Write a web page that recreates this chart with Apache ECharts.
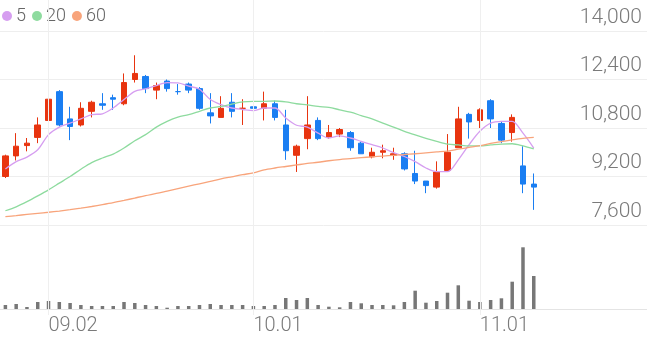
<!DOCTYPE html>
<html>
<head>
<meta charset="utf-8">
<script src="https://cdn.jsdelivr.net/npm/echarts@6/dist/echarts.min.js"></script>
<style>html,body{margin:0;padding:0;background:#fff}#c{width:647px;height:337px}</style>
</head>
<body>
<div id="c"></div>
<script>
const dates = ['08.27','08.28','08.29','08.30',
  '09.02','09.03','09.04','09.05','09.06','09.09','09.10','09.11','09.16','09.17','09.18','09.19','09.20','09.23','09.24','09.25','09.26','09.27','09.30',
  '10.01','10.02','10.04','10.07','10.08','10.10','10.11','10.14','10.15','10.16','10.17','10.18','10.21','10.22','10.23','10.24','10.25','10.28','10.29','10.30','10.31',
  '11.01','11.04','11.05','11.06','11.07','11.08'];
const emptySlots = 10;
const tickLabels = ['09.02','10.01','11.01'];

const open  = [9200,9880,10220,10490,11050,12000,11100,10900,11350,11600,11800,11600,12400,12500,12050,12350,12000,12250,12100,11300,11150,11650,11450,11500,11450,11600,10900,9900,10450,11050,10500,10600,10650,10300,9850,10000,9900,9950,9300,9050,8850,9400,10150,11250,11050,11700,10950,10650,9550,8950];
const close = [9880,10200,10300,10900,11750,10900,10850,11450,11650,11550,11750,12300,12600,12100,12200,12100,12000,12050,11450,11200,11450,11350,11450,11450,11600,11150,10050,10200,10900,10450,10650,10750,10150,9950,10000,10050,9950,9450,9050,8900,9350,10000,11100,11000,11400,11100,10400,11150,8950,8850];
const low   = [9150,9730,10030,10300,10900,10850,10400,10850,11150,11400,11400,11550,12300,11950,11750,12000,11900,11950,11400,10950,11150,11150,10900,11250,11050,11050,9750,9350,10100,10400,10450,10500,10050,9950,9800,9800,9750,9400,8950,8650,8800,9400,10150,10450,10800,10800,10300,10350,8650,8100];
const high  = [9920,10630,10470,11150,11900,12050,11500,11650,11700,11950,11900,12600,13200,12550,12300,12400,12250,12300,12150,11950,11850,11950,11750,11550,12000,11700,11400,10250,11850,11150,10900,10800,10700,10350,10150,10250,10150,10000,10050,9050,9700,10600,11500,11300,11450,11750,11000,11250,10200,9300];

const ma5  = [9450,9690,9840,10080,10580,10830,10960,11100,11240,11270,11460,11740,12010,12090,12200,12300,12290,12180,12080,11740,11570,11460,11410,11370,11460,11460,11130,10890,10830,10630,10470,10540,10470,10360,10250,10140,9990,9860,9690,9480,9360,9360,9750,10250,10690,10960,11020,11020,10630,10140];
const ma20 = [8070,8200,8370,8560,8760,8980,9200,9440,9660,9810,9940,10140,10380,10580,10830,11020,11160,11240,11350,11460,11510,11590,11660,11680,11680,11690,11660,11600,11560,11510,11480,11400,11320,11210,11100,10960,10830,10690,10570,10460,10360,10270,10240,10210,10210,10240,10270,10280,10210,10110];
const ma60 = [7875,7910,7950,7985,8020,8060,8105,8155,8210,8270,8335,8410,8490,8570,8640,8720,8800,8880,8960,9040,9120,9190,9260,9320,9420,9480,9530,9580,9630,9670,9720,9760,9790,9820,9850,9875,9900,9925,9950,9980,10010,10040,10100,10160,10220,10290,10350,10410,10460,10490];

const volume = [40000,50000,20000,70000,80000,70000,60000,40000,30000,30000,30000,70000,60000,40000,30000,13000,30000,30000,40000,50000,40000,40000,40000,30000,30000,40000,110000,90000,110000,40000,23000,17000,70000,57000,40000,40000,37000,70000,183000,63000,80000,163000,237000,83000,70000,90000,107000,273000,617000,330000];

const categories = dates.concat(new Array(emptySlots).fill(''));
const candleData = open.map((o, i) => [o, close[i], low[i], high[i]]);

const UP = '#e8340f', DOWN = '#1a7ef2';
const FONT = 'Roboto, "Noto Sans", sans-serif';

const chart = echarts.init(document.getElementById('c'), null, {renderer: 'canvas'});
chart.setOption({
  animation: false,
  backgroundColor: '#fff',
  legend: {
    data: ['5', '20', '60'],
    icon: 'circle',
    itemWidth: 10, itemHeight: 10, itemGap: 6,
    left: 2, top: 7, padding: 0,
    textStyle: {color: '#666', fontSize: 18, fontFamily: FONT, fontWeight: 300, padding: [0, 0, 0, -1]}
  },
  grid: [
    {left: 0, right: 0, top: 31, height: 194},
    {left: 0, right: 0, top: 226, height: 83},
    {left: 0, right: 0, top: 0, height: 315}
  ],
  xAxis: [
    {type: 'category', gridIndex: 0, data: categories, boundaryGap: true,
     axisLine: {show: false}, axisTick: {show: false}, axisLabel: {show: false}, splitLine: {show: false}},
    {type: 'category', gridIndex: 1, data: categories, boundaryGap: true,
     axisLine: {show: true, lineStyle: {color: '#e4e4e4'}}, axisTick: {show: false},
     axisLabel: {
       interval: (idx, val) => tickLabels.indexOf(val) >= 0,
       align: 'left', margin: 7, color: '#7a7a7a', fontSize: 20, fontWeight: 300, fontFamily: FONT
     },
     splitLine: {show: false}},
    {type: 'category', gridIndex: 2, data: categories, boundaryGap: true, show: false}
  ],
  yAxis: [
    {type: 'value', gridIndex: 0, position: 'right', min: 7600, max: 14000, interval: 1600, scale: true,
     axisLine: {show: false}, axisTick: {show: false},
     axisLabel: {inside: true, margin: 5, verticalAlign: 'bottom', padding: [0, 0, 3, 0],
                 color: '#7a7a7a', fontSize: 21, fontWeight: 300, fontFamily: FONT,
                 formatter: v => v.toLocaleString('en-US')},
     splitLine: {show: true, lineStyle: {color: '#eeeeee', width: 1}}},
    {type: 'value', gridIndex: 1, min: 0, max: 830000, show: false, splitLine: {show: false}},
    {type: 'value', gridIndex: 2, min: 0, max: 1, show: false, splitLine: {show: false}}
  ],
  series: [
    {
      name: 'grid', type: 'line', xAxisIndex: 2, yAxisIndex: 2, data: [null], z: 0,
      symbol: 'none', silent: true,
      markLine: {
        silent: true, symbol: ['none', 'none'], label: {show: false},
        lineStyle: {color: '#efefef', type: 'solid', width: 1},
        data: tickLabels.map(t => ({xAxis: t}))
      }
    },
    {
      name: 'price', type: 'candlestick', xAxisIndex: 0, yAxisIndex: 0,
      data: candleData, barWidth: 6,
      itemStyle: {color: UP, color0: DOWN, borderColor: UP, borderColor0: DOWN, borderWidth: 1}
    },
    {name: '5', type: 'line', xAxisIndex: 0, yAxisIndex: 0, data: ma5, smooth: 0.3, symbol: 'none',
     color: '#d69ef0', lineStyle: {width: 1.3, color: '#d69ef0'}},
    {name: '20', type: 'line', xAxisIndex: 0, yAxisIndex: 0, data: ma20, smooth: 0.3, symbol: 'none',
     color: '#8edb9f', lineStyle: {width: 1.3, color: '#8edb9f'}},
    {name: '60', type: 'line', xAxisIndex: 0, yAxisIndex: 0, data: ma60, smooth: 0.3, symbol: 'none',
     color: '#f8a47b', lineStyle: {width: 1.3, color: '#f8a47b'}},
    {name: 'vol', type: 'bar', xAxisIndex: 1, yAxisIndex: 1, data: volume, barWidth: 3.5,
     itemStyle: {color: '#777777'}}
  ]
});
</script>
</body>
</html>
